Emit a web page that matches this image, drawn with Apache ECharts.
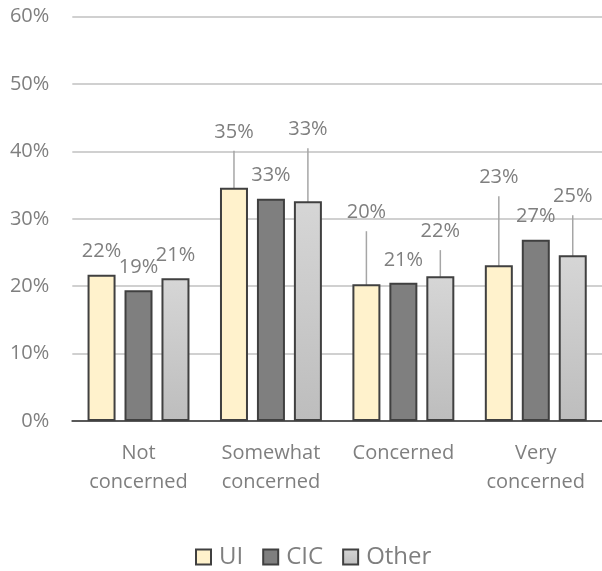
<!DOCTYPE html>
<html>
<head>
<meta charset="utf-8">
<script src="https://cdn.jsdelivr.net/npm/echarts@6/dist/echarts.min.js"></script>
<style>
  html, body { margin: 0; padding: 0; background: #ffffff; }
  #chart { width: 602px; height: 571px; }
</style>
</head>
<body>
<div id="chart"></div>
<script>
// Level of concern, share of respondents (%) by group
const categories = ['Not\nconcerned', 'Somewhat\nconcerned', 'Concerned', 'Very\nconcerned'];
const seriesNames = ['UI', 'CIC', 'Other'];
const uiValues = [21.7, 34.6, 20.3, 23.1];
const cicValues = [19.4, 33.0, 20.5, 26.9];
const otherValues = [21.2, 32.6, 21.5, 24.6];
const yMin = 0, yMax = 60, yStep = 10;

// How far (px) some value labels are lifted above their bar, with a leader line
const labelLift = {
  UI: [0, 33, 49, 65],
  CIC: [0, 0, 0, 0],
  Other: [0, 49, 22, 36]
};

const FONT = 'Open Sans';
const TEXT_GRAY = '#7f7f7f';
const BORDER = '#404040';

const fills = {
  UI: '#fff2cc',
  CIC: '#7f7f7f',
  Other: {
    type: 'linear', x: 0, y: 0, x2: 0, y2: 1,
    colorStops: [{ offset: 0, color: '#d6d6d6' }, { offset: 1, color: '#bdbdbd' }]
  }
};

const valuesByName = { UI: uiValues, CIC: cicValues, Other: otherValues };

function buildSeries(name) {
  const lifts = labelLift[name];
  return {
    name: name,
    type: 'bar',
    barWidth: 28,
    barGap: '32%',
    data: valuesByName[name].map((v, i) => ({
      value: v,
      labelLine: { show: lifts[i] > 0 }
    })),
    itemStyle: { color: fills[name], borderColor: BORDER, borderWidth: 2 },
    label: {
      show: true,
      position: 'top',
      distance: 4,
      padding: [0, 0, 9, 0],
      fontFamily: FONT,
      fontSize: 20,
      lineHeight: 20,
      color: TEXT_GRAY,
      formatter: p => Math.round(p.value) + '%'
    },
    labelLine: { lineStyle: { color: '#a6a6a6', width: 1.5 } },
    labelLayout: p => ({ dy: -lifts[p.dataIndex] })
  };
}

const chart = echarts.init(document.getElementById('chart'), null, { renderer: 'canvas' });
chart.setOption({
  animation: false,
  backgroundColor: '#ffffff',
  grid: { left: 72.3, top: 16.7, width: 534.4, height: 404.3, containLabel: false },
  legend: {
    data: seriesNames,
    left: 190,
    top: 540,
    icon: 'rect',
    itemWidth: 15,
    itemHeight: 15,
    itemGap: 19,
    textStyle: { fontFamily: FONT, fontSize: 24, color: TEXT_GRAY, padding: [0, 0, 0, 3] }
  },
  xAxis: {
    type: 'category',
    data: categories,
    axisLine: { lineStyle: { color: '#595959', width: 2 } },
    axisTick: { show: false },
    axisLabel: {
      interval: 0,
      margin: 18,
      fontFamily: FONT,
      fontSize: 20,
      lineHeight: 29,
      color: TEXT_GRAY
    }
  },
  yAxis: {
    type: 'value',
    min: yMin,
    max: yMax,
    interval: yStep,
    axisLine: { show: false },
    axisTick: { show: false },
    splitLine: { lineStyle: { color: '#c0c0c0', width: 1.5 } },
    axisLabel: {
      margin: 23,
      fontFamily: FONT,
      fontSize: 20,
      color: TEXT_GRAY,
      formatter: v => v + '%'
    }
  },
  series: seriesNames.map(buildSeries)
});
</script>
</body>
</html>
